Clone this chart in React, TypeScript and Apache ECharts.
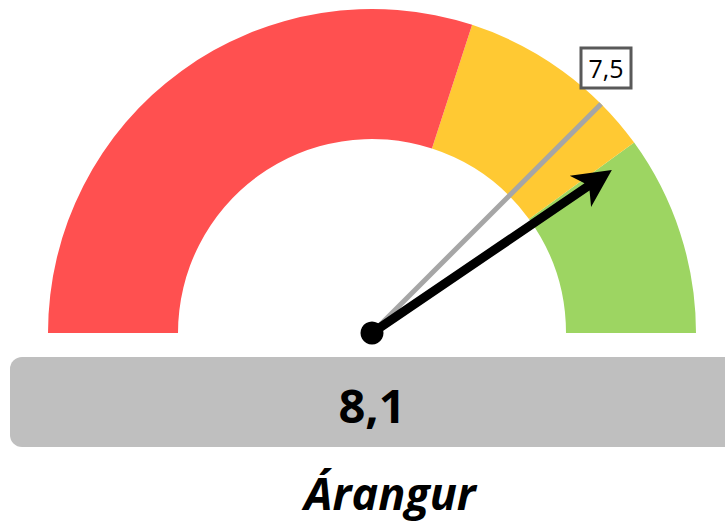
import React, { useEffect, useRef } from "react";
import * as echarts from "echarts";

const scaleMin = 0;
const scaleMax = 10;
const bandStops = [0.6, 0.8, 1];
const bandColors = ["#FF5050", "#FFC933", "#9DD562"];
const targetValue = 7.5;
const actualValue = 8.1;
const titleText = "Árangur";

const fmt = (v: number) => v.toFixed(1).replace(".", ",");

export default function App() {
  const ref = useRef<HTMLDivElement>(null);
  useEffect(() => {
    if (!ref.current) return;
    const chart = echarts.init(ref.current, undefined, { renderer: "svg" });
    const arrowPath =
      "path://M19 0 L38 38 L23.5 30 L23.5 290 L14.5 290 L14.5 30 L0 38 Z";
    chart.setOption({
      animation: false,
      backgroundColor: "#ffffff",
      graphic: [
        {
          type: "rect",
          shape: { x: 10, y: 357, width: 740, height: 90, r: 12 },
          style: { fill: "#BFBFBF" },
          z: -1,
        },
        {
          type: "text",
          x: 390,
          y: 492,
          style: {
            text: titleText,
            fill: "#000",
            font: "italic bold 45px 'Open Sans'",
            textAlign: "center",
            textVerticalAlign: "middle",
          },
        },
      ],
      series: [
        {
          type: "gauge",
          center: [372, 333],
          radius: 324,
          startAngle: 180,
          endAngle: 0,
          min: scaleMin,
          max: scaleMax,
          axisLine: {
            lineStyle: {
              width: 130,
              color: bandStops.map((s, i) => [s, bandColors[i]]),
            },
          },
          splitLine: { show: false },
          axisTick: { show: false },
          axisLabel: { show: false },
          pointer: {
            show: true,
            icon: "rect",
            width: 5,
            length: 324,
            itemStyle: { color: "#A6A6A6" },
          },
          anchor: { show: false },
          title: { show: false },
          detail: {
            show: true,
            offsetCenter: [234, -265],
            formatter: (v: number) => fmt(v),
            fontSize: 25,
            fontWeight: "normal",
            fontFamily: "'Open Sans'",
            color: "#000",
            backgroundColor: "#ffffff",
            borderColor: "#595959",
            borderWidth: 3,
            width: 47,
            height: 37,
            lineHeight: 37,
            padding: 0,
            align: "center",
          },
          data: [{ value: targetValue }],
          z: 2,
        },
        {
          type: "gauge",
          center: [372, 333],
          radius: 324,
          startAngle: 180,
          endAngle: 0,
          min: scaleMin,
          max: scaleMax,
          axisLine: { show: false },
          splitLine: { show: false },
          axisTick: { show: false },
          axisLabel: { show: false },
          pointer: {
            show: true,
            icon: arrowPath,
            width: 38,
            length: 290,
            itemStyle: { color: "#000" },
          },
          anchor: {
            show: true,
            size: 23,
            showAbove: true,
            itemStyle: { color: "#000" },
          },
          title: { show: false },
          detail: {
            show: true,
            offsetCenter: [0, 72],
            formatter: (v: number) => fmt(v),
            fontSize: 47,
            fontWeight: "bold",
            fontFamily: "'Open Sans'",
            color: "#000",
          },
          data: [{ value: actualValue }],
          z: 3,
        },
      ],
    });
    return () => chart.dispose();
  }, []);
  return (
    <div
      ref={ref}
      style={{ position: "fixed", left: 0, top: 0, width: 725, height: 524 }}
    />
  );
}
